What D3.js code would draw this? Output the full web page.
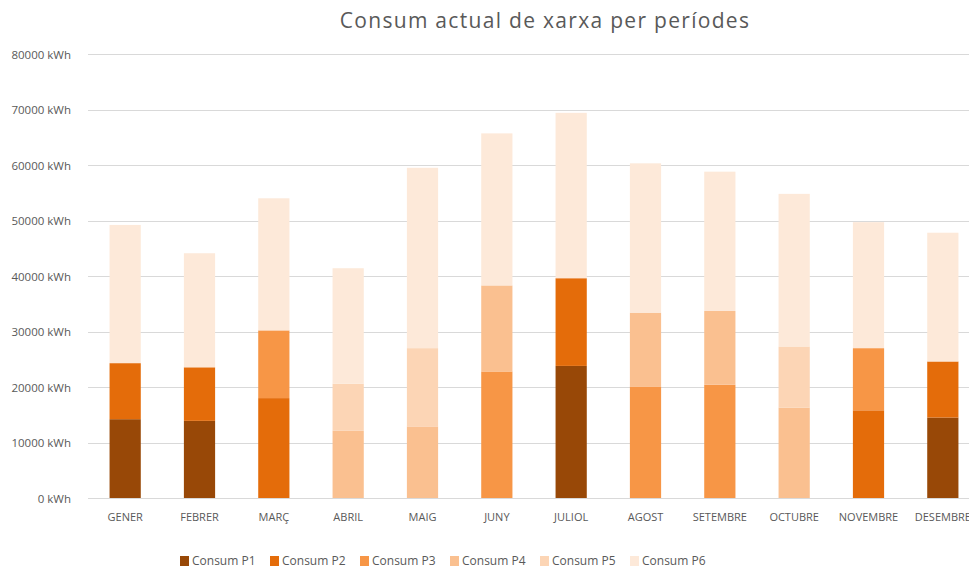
<!DOCTYPE html>
<html>
<head>
<meta charset="utf-8">
<script src="https://cdn.jsdelivr.net/npm/d3@7"></script>
<style>
  body { margin: 0; background: #fff; }
  text { font-family: "Open Sans", "Liberation Sans", sans-serif; fill: #595959; }
</style>
</head>
<body>
<svg id="chart"></svg>
<script>
const width = 969, height = 572;

const months = ["GENER", "FEBRER", "MARÇ", "ABRIL", "MAIG", "JUNY", "JULIOL", "AGOST", "SETEMBRE", "OCTUBRE", "NOVEMBRE", "DESEMBRE"];
const seriesNames = ["Consum P1", "Consum P2", "Consum P3", "Consum P4", "Consum P5", "Consum P6"];
const colors = ["#984807", "#E46C0A", "#F79646", "#FAC090", "#FCD5B5", "#FDE9D9"];

const p1 = [14200, 13900, 0, 0, 0, 0, 23800, 0, 0, 0, 0, 14500];
const p2 = [10100, 9650, 18000, 0, 0, 0, 15800, 0, 0, 0, 15800, 10100];
const p3 = [0, 0, 12200, 0, 0, 22800, 0, 20100, 20400, 0, 11200, 0];
const p4 = [0, 0, 0, 12100, 12900, 15500, 0, 13300, 13300, 16300, 0, 0];
const p5 = [0, 0, 0, 8500, 14100, 0, 0, 0, 0, 11000, 0, 0];
const p6 = [24900, 20550, 23800, 20800, 32500, 27400, 29800, 26900, 25100, 27500, 22700, 23200];
const yTicks = [0, 10000, 20000, 30000, 40000, 50000, 60000, 70000, 80000];

const margin = { top: 54, right: -11, bottom: 74, left: 88 };

const rows = months.map((m, i) => ({
    month: m,
    "Consum P1": p1[i], "Consum P2": p2[i], "Consum P3": p3[i],
    "Consum P4": p4[i], "Consum P5": p5[i], "Consum P6": p6[i]
}));

const svg = d3.select("#chart")
    .attr("width", width)
    .attr("height", height);

const x = d3.scaleBand()
    .domain(months)
    .range([margin.left, width - margin.right])
    .paddingInner(0.58)
    .paddingOuter(0.29);

const y = d3.scaleLinear()
    .domain([0, 80000])
    .range([height - margin.bottom, margin.top]);

// gridlines
svg.append("g")
    .selectAll("line")
    .data(yTicks)
    .enter().append("line")
    .attr("x1", margin.left)
    .attr("x2", width - margin.right)
    .attr("y1", d => Math.round(y(d)) + 0.5)
    .attr("y2", d => Math.round(y(d)) + 0.5)
    .attr("stroke", "#d9d9d9")
    .attr("stroke-width", 1);

// y labels
const yAxis = svg.append("g")
    .attr("transform", `translate(${margin.left - 14},0)`)
    .call(d3.axisLeft(y).tickValues(yTicks).tickSize(0).tickFormat(d => d + " kWh"));
yAxis.select(".domain").remove();
yAxis.selectAll("text")
    .style("font-size", "11.5px")
    .attr("fill", "#595959")
    .attr("dy", "0.35em");

// stacked bars
const stack = d3.stack().keys(seriesNames);
const layers = stack(rows);

svg.append("g")
    .selectAll("g")
    .data(layers)
    .enter().append("g")
    .attr("fill", (d, i) => colors[i])
    .selectAll("rect")
    .data(d => d.filter(s => s[1] - s[0] > 0))
    .enter().append("rect")
    .attr("x", d => x(d.data.month))
    .attr("width", x.bandwidth())
    .attr("y", d => y(d[1]))
    .attr("height", d => y(d[0]) - y(d[1]));

// x labels
const xAxis = svg.append("g")
    .attr("transform", `translate(0,${height - margin.bottom})`)
    .call(d3.axisBottom(x).tickSize(0).tickPadding(15));
xAxis.select(".domain").remove();
xAxis.selectAll("text")
    .style("font-size", "11px")
    .attr("fill", "#595959");

// title
svg.append("text")
    .attr("x", 545)
    .attr("y", 28)
    .attr("text-anchor", "middle")
    .style("font-size", "21px")
    .style("letter-spacing", "1.3px")
    .text("Consum actual de xarxa per períodes");

// legend
const legend = svg.append("g")
    .selectAll("g")
    .data(seriesNames)
    .enter().append("g")
    .attr("transform", (d, i) => `translate(${180 + i * 90},556)`);

legend.append("rect")
    .attr("width", 9)
    .attr("height", 10)
    .attr("fill", (d, i) => colors[i]);

legend.append("text")
    .attr("x", 12)
    .attr("y", 5)
    .attr("dy", "0.35em")
    .style("font-size", "12px")
    .text(d => d);
</script>
</body>
</html>
